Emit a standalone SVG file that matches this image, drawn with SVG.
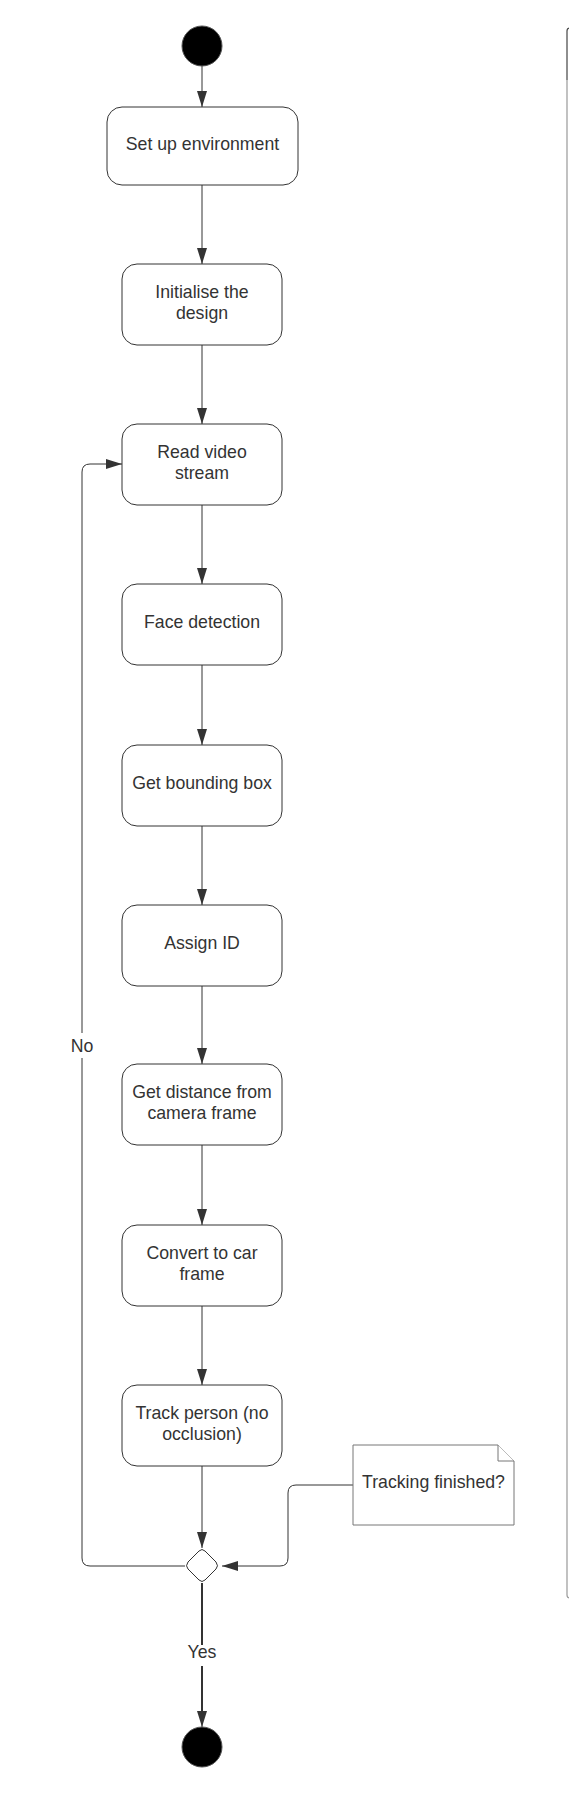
<svg xmlns="http://www.w3.org/2000/svg" width="569" height="1806" viewBox="0 0 569 1806">
<style>
.box{fill:#fff;stroke:#333;stroke-width:1}
.t{font-family:"Liberation Sans",Arial,sans-serif;font-size:17.7px;fill:#333;text-anchor:middle}
.c{fill:none;stroke:#333;stroke-width:1}
.thick{fill:none;stroke:#333;stroke-width:2}
.note{fill:#fff;stroke:#777;stroke-width:1}
</style>
<defs>
<marker id="ah" viewBox="0 0 16 10" refX="16" refY="5" markerWidth="16" markerHeight="10" markerUnits="userSpaceOnUse" orient="auto">
<path d="M0,0 L16,5 L0,10 Z" fill="#333"/>
</marker>
</defs>
<rect width="569" height="1806" fill="#fff"/>
<g id="container">
<path d="M569,28 L570,28 Q567,28 567,31 L567,80" fill="none" stroke="#444" stroke-width="1.2"/>
<path d="M567,80 L567,1595 Q567,1598 570,1598" fill="none" stroke="#999" stroke-width="1.2"/>
</g>
<g id="connectors">
<line class="c" x1="202" y1="66" x2="202" y2="107" marker-end="url(#ah)"/>
<line class="c" x1="202" y1="185" x2="202" y2="264" marker-end="url(#ah)"/>
<line class="c" x1="202" y1="345" x2="202" y2="424" marker-end="url(#ah)"/>
<line class="c" x1="202" y1="505" x2="202" y2="584" marker-end="url(#ah)"/>
<line class="c" x1="202" y1="665" x2="202" y2="745" marker-end="url(#ah)"/>
<line class="c" x1="202" y1="826" x2="202" y2="905" marker-end="url(#ah)"/>
<line class="c" x1="202" y1="986" x2="202" y2="1064" marker-end="url(#ah)"/>
<line class="c" x1="202" y1="1145" x2="202" y2="1225" marker-end="url(#ah)"/>
<line class="c" x1="202" y1="1306" x2="202" y2="1385" marker-end="url(#ah)"/>
<line class="c" x1="202" y1="1466" x2="202" y2="1548" marker-end="url(#ah)"/>
<path class="c" d="M185,1566 L90,1566 Q82,1566 82,1558 L82,1058"/>
<path class="c" d="M82,1033 L82,472 Q82,464 90,464 L122,464" marker-end="url(#ah)"/>
<text class="t" x="82" y="1052">No</text>
<path class="c" d="M353,1485 L296,1485 Q288,1485 288,1493 L288,1558 Q288,1566 280,1566 L222,1566" stroke="#555" marker-end="url(#ah)"/>
<line class="thick" x1="202" y1="1583" x2="202" y2="1645"/>
<path class="thick" d="M202,1666 L202,1712"/>
<line class="c" x1="202" y1="1700" x2="202" y2="1727" marker-end="url(#ah)"/>
<text class="t" x="202" y="1658">Yes</text>
</g>
<g id="start"><circle cx="202" cy="46" r="20" fill="#000" stroke="#555" stroke-width="1"/></g>
<g id="n1"><rect class="box" x="107" y="107" width="191" height="78" rx="15"/><text class="t" x="202.5" y="150">Set up environment</text></g>
<g id="n2"><rect class="box" x="122" y="264" width="160" height="81" rx="15"/><text class="t" x="202" y="298">Initialise the</text><text class="t" x="202" y="319">design</text></g>
<g id="n3"><rect class="box" x="122" y="424" width="160" height="81" rx="15"/><text class="t" x="202" y="458">Read video</text><text class="t" x="202" y="479">stream</text></g>
<g id="n4"><rect class="box" x="122" y="584" width="160" height="81" rx="15"/><text class="t" x="202" y="628">Face detection</text></g>
<g id="n5"><rect class="box" x="122" y="745" width="160" height="81" rx="15"/><text class="t" x="202" y="789">Get bounding box</text></g>
<g id="n6"><rect class="box" x="122" y="905" width="160" height="81" rx="15"/><text class="t" x="202" y="949">Assign ID</text></g>
<g id="n7"><rect class="box" x="122" y="1064" width="160" height="81" rx="15"/><text class="t" x="202" y="1098">Get distance from</text><text class="t" x="202" y="1119">camera frame</text></g>
<g id="n8"><rect class="box" x="122" y="1225" width="160" height="81" rx="15"/><text class="t" x="202" y="1259">Convert to car</text><text class="t" x="202" y="1280">frame</text></g>
<g id="n9"><rect class="box" x="122" y="1385" width="160" height="81" rx="15"/><text class="t" x="202" y="1419">Track person (no</text><text class="t" x="202" y="1440">occlusion)</text></g>
<g id="decision"><path d="M199,1551 Q202,1548 205,1551 L216,1562 Q219,1566 216,1569 L205,1580 Q202,1583 199,1580 L188,1569 Q185,1566 188,1562 Z" fill="#fff" stroke="#333" stroke-width="1"/></g>
<g id="note"><path class="note" d="M353,1445 L498,1445 L514,1461 L514,1525 L353,1525 Z"/><path class="note" d="M498,1445 L498,1461 L514,1461"/><text class="t" x="433.5" y="1488">Tracking finished?</text></g>
<g id="end"><circle cx="202" cy="1747" r="20" fill="#000" stroke="#555" stroke-width="1"/></g>
</svg>
